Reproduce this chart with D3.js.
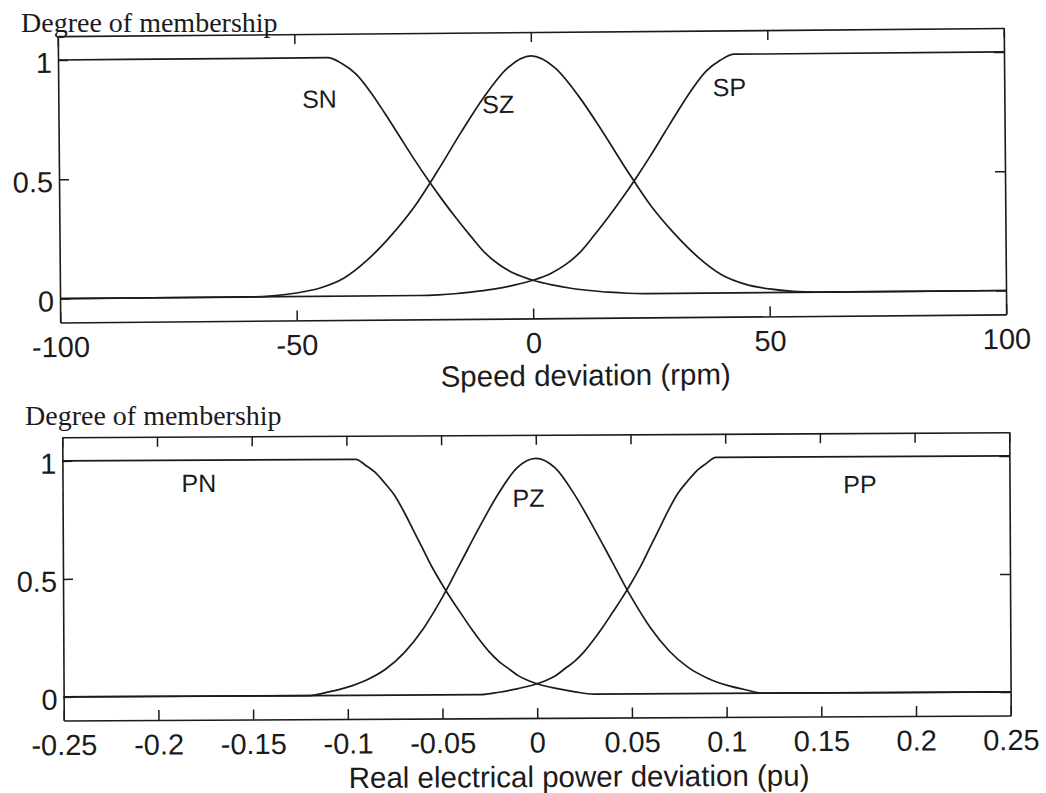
<!DOCTYPE html>
<html>
<head>
<meta charset="utf-8">
<script src="https://cdn.jsdelivr.net/npm/d3@7"></script>
<style>
  html, body { margin: 0; padding: 0; background: #fff; }
  svg { display: block; }
</style>
</head>
<body>
<svg id="chart" width="1046" height="793"></svg>
<script>
// ---- Tick values ----
const speedTicks = [-100, -50, 0, 50, 100];
const powerTicks = [-0.25, -0.2, -0.15, -0.1, -0.05, 0, 0.05, 0.1, 0.15, 0.2, 0.25];
const memberTicks = [0, 0.5, 1];

// ---- Speed deviation membership functions: [rpm, degree] ----
const speedSN = [[-100,1],[-43,1],[-40,0.975],[-37,0.93],[-34,0.855],[-31,0.765],[-28,0.67],[-25,0.575],
  [-22,0.485],[-19,0.40],[-16,0.32],[-13,0.245],[-10,0.175],[-7,0.125],[-4,0.09],[0,0.06],[4,0.04],
  [8,0.025],[12,0.015],[16,0.007],[20,0.002],[24,0],[100,0]];
const speedSZ = [[-100,0],[-60,0],[-55,0.004],[-50,0.015],[-45,0.035],[-40,0.075],[-35,0.15],[-30,0.25],
  [-25,0.37],[-20,0.52],[-15,0.68],[-10,0.83],[-5,0.95],[0,1],[5,0.95],[10,0.83],[15,0.68],[20,0.52],
  [25,0.37],[30,0.25],[35,0.15],[40,0.075],[45,0.035],[50,0.015],[55,0.004],[60,0],[100,0]];
const speedSP = [[-100,0],[-24,0],[-20,0.002],[-16,0.007],[-12,0.015],[-8,0.025],[-4,0.04],[0,0.06],
  [4,0.09],[7,0.125],[10,0.175],[13,0.245],[16,0.32],[19,0.40],[22,0.485],[25,0.575],[28,0.67],[31,0.765],
  [34,0.855],[37,0.93],[40,0.975],[43,1],[100,1]];

// ---- Power deviation membership functions: [pu, degree] ----
const powerPN = [[-0.25,1],[-0.095,1],[-0.09,0.975],[-0.085,0.945],[-0.08,0.90],[-0.075,0.85],[-0.07,0.78],
  [-0.065,0.70],[-0.06,0.62],[-0.055,0.54],[-0.05,0.47],[-0.045,0.405],[-0.04,0.345],[-0.035,0.285],
  [-0.03,0.23],[-0.025,0.18],[-0.02,0.14],[-0.015,0.11],[-0.01,0.08],[-0.005,0.06],[0,0.045],
  [0.01,0.025],[0.02,0.01],[0.03,0],[0.25,0]];
const powerPZ = [[-0.25,0],[-0.12,0],[-0.11,0.015],[-0.10,0.035],[-0.09,0.065],[-0.08,0.11],[-0.07,0.18],
  [-0.06,0.28],[-0.05,0.41],[-0.04,0.56],[-0.03,0.71],[-0.02,0.85],[-0.01,0.96],[0,1],[0.01,0.96],
  [0.02,0.85],[0.03,0.71],[0.04,0.56],[0.05,0.41],[0.06,0.28],[0.07,0.18],[0.08,0.11],[0.09,0.065],
  [0.10,0.035],[0.11,0.015],[0.12,0],[0.25,0]];
const powerPP = [[-0.25,0],[-0.03,0],[-0.02,0.01],[-0.01,0.025],[0,0.045],[0.005,0.06],[0.01,0.08],
  [0.015,0.11],[0.02,0.14],[0.025,0.18],[0.03,0.23],[0.035,0.285],[0.04,0.345],[0.045,0.405],[0.05,0.47],
  [0.055,0.54],[0.06,0.62],[0.065,0.70],[0.07,0.78],[0.075,0.85],[0.08,0.90],[0.085,0.945],[0.09,0.975],
  [0.095,1],[0.25,1]];

const speedNames = ["SN", "SZ", "SP"];
const powerNames = ["PN", "PZ", "PP"];

const SANS = '"Liberation Sans", Arial, Helvetica, sans-serif';
const SERIF = '"Liberation Serif", "Times New Roman", Times, serif';
const INK = "#1b1b1b";

const svg = d3.select("#chart");

const panels = [
  {
    xDomain: [-100, 100], xTicks: speedTicks,
    box: { left: 59, right: 1005, top: 32.1, bottom: 318.4 },
    tilt: -0.49, tickPad: 14,
    series: [speedSN, speedSZ, speedSP], names: speedNames,
    labelAt: [[-44.8, 0.79], [-7.0, 0.762], [41.9, 0.825]],
    title: "Speed deviation (rpm)", titleAt: [584, 386],
    yTitle: "Degree of membership", yTitleAt: [21, 31.5]
  },
  {
    xDomain: [-0.25, 0.25], xTicks: powerTicks,
    box: { left: 63, right: 1010, top: 434.8, bottom: 718 },
    tilt: -0.30, tickPad: 14,
    series: [powerPN, powerPZ, powerPP], names: powerNames,
    labelAt: [[-0.178, 0.865], [-0.004, 0.795], [0.171, 0.846]],
    title: "Real electrical power deviation (pu)", titleAt: [578, 787],
    yTitle: "Degree of membership", yTitleAt: [25, 425]
  }
];

function styleAxis(sel) {
  sel.attr("font-family", SANS).attr("font-size", 29);
  sel.selectAll("path.domain").attr("stroke", INK).attr("stroke-width", 1.6);
  sel.selectAll(".tick line").attr("stroke", INK).attr("stroke-width", 1.5);
  sel.selectAll(".tick text").attr("fill", INK);
}

panels.forEach(p => {
  const b = p.box;
  const cx = (b.left + b.right) / 2, cy = (b.top + b.bottom) / 2;
  const g = svg.append("g").attr("transform", `rotate(${p.tilt}, ${cx}, ${cy})`);

  const x = d3.scaleLinear().domain(p.xDomain).range([b.left, b.right]);
  const y = d3.scaleLinear().domain([-0.1, 1.1]).range([b.bottom, b.top]);
  const fmt = d => String(d);

  // frame with inward ticks on all four sides
  g.append("g").attr("transform", `translate(0,${b.bottom})`)
    .call(d3.axisBottom(x).tickValues(p.xTicks).tickFormat(fmt)
      .tickSize(-10).tickSizeOuter(0).tickPadding(p.tickPad))
    .call(styleAxis);
  g.append("g").attr("transform", `translate(0,${b.top})`)
    .call(d3.axisTop(x).tickValues(p.xTicks).tickFormat(() => "")
      .tickSize(-10).tickSizeOuter(0))
    .call(styleAxis);
  g.append("g").attr("transform", `translate(${b.left},0)`)
    .call(d3.axisLeft(y).tickValues(memberTicks).tickFormat(fmt)
      .tickSize(-10).tickSizeOuter(0).tickPadding(6))
    .call(styleAxis)
    .selectAll(".tick text").attr("dy", "0.42em");
  g.append("g").attr("transform", `translate(${b.right},0)`)
    .call(d3.axisRight(y).tickValues(memberTicks).tickFormat(() => "")
      .tickSize(-10).tickSizeOuter(0))
    .call(styleAxis);

  // membership curves
  const line = d3.line()
    .x(d => x(d[0]))
    .y(d => y(d[1]))
    .curve(d3.curveMonotoneX);

  g.selectAll("path.mf")
    .data(p.series)
    .join("path")
    .attr("class", "mf")
    .attr("d", line)
    .attr("fill", "none")
    .attr("stroke", INK)
    .attr("stroke-width", 1.7)
    .attr("stroke-linejoin", "round");

  g.selectAll("text.mf-label")
    .data(p.names)
    .join("text")
    .attr("class", "mf-label")
    .attr("x", (d, i) => x(p.labelAt[i][0]))
    .attr("y", (d, i) => y(p.labelAt[i][1]))
    .attr("text-anchor", "middle")
    .attr("font-family", SANS)
    .attr("font-size", 25)
    .attr("fill", INK)
    .text(d => d);

  g.append("text")
    .attr("x", p.titleAt[0])
    .attr("y", p.titleAt[1])
    .attr("text-anchor", "middle")
    .attr("font-family", SANS)
    .attr("font-size", 29.5)
    .attr("fill", INK)
    .text(p.title);

  svg.append("text")
    .attr("x", p.yTitleAt[0])
    .attr("y", p.yTitleAt[1])
    .attr("font-family", SERIF)
    .attr("font-size", 28)
    .attr("fill", INK)
    .text(p.yTitle);
});
</script>
</body>
</html>
